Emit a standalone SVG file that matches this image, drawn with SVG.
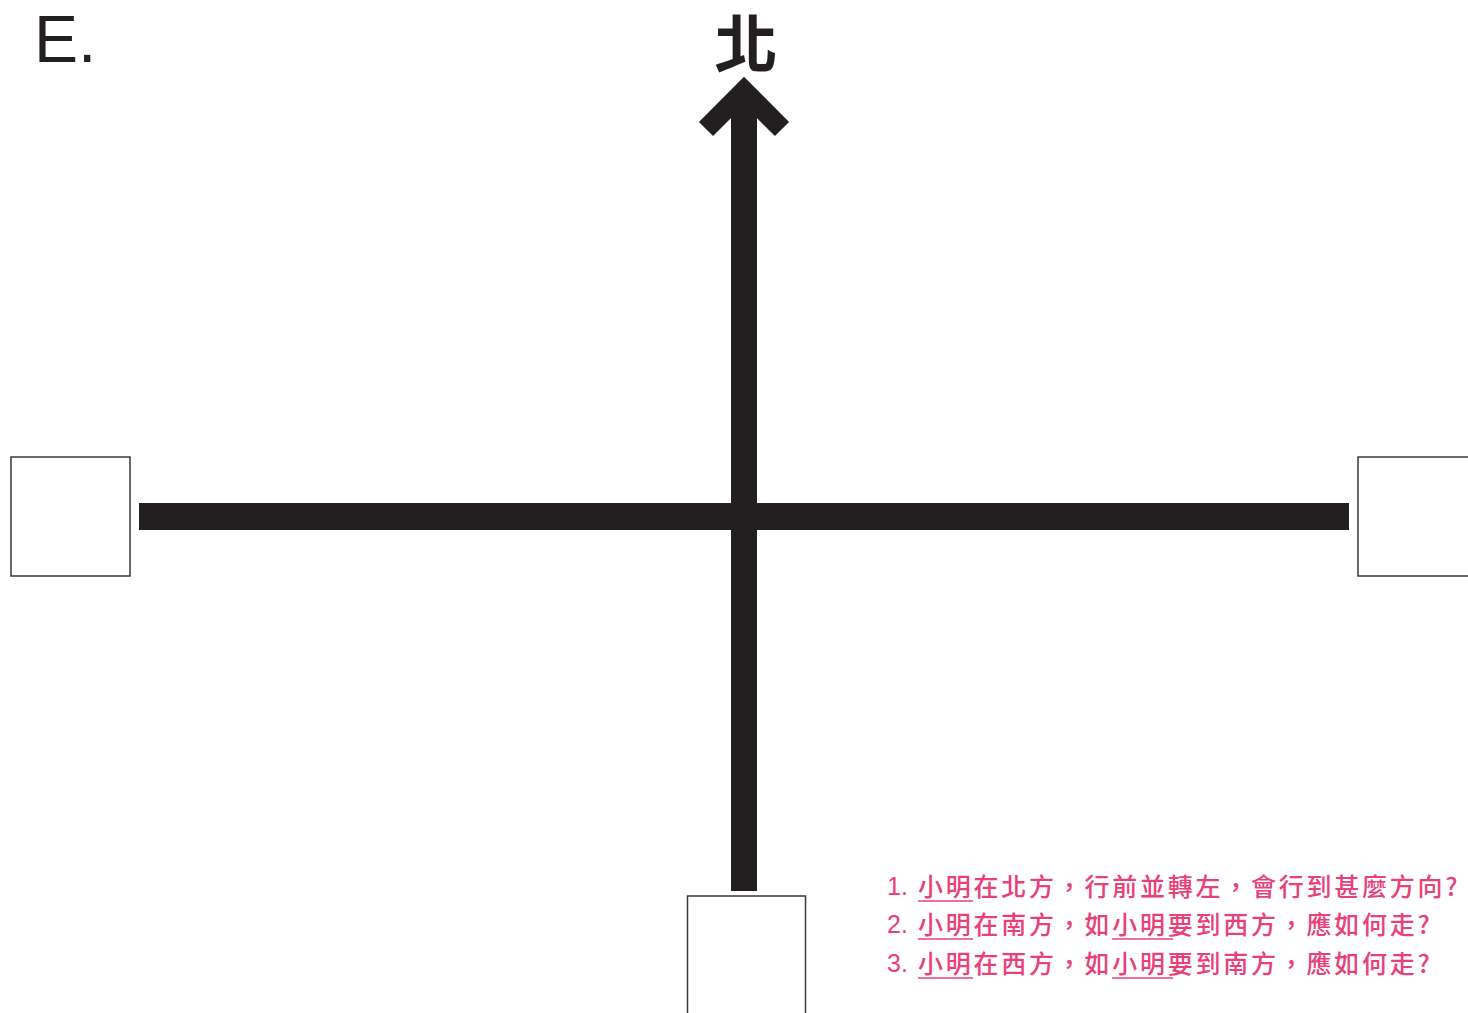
<svg xmlns="http://www.w3.org/2000/svg" width="1468" height="1013" viewBox="0 0 1468 1013">
<style>
.box{fill:#fff;stroke:#3a3a3a;stroke-width:1.5}
.bar{fill:#231f20}
.q{font-family:"Noto Sans CJK TC","Noto Sans CJK SC",sans-serif;font-size:25px;font-weight:500;fill:#e9407a;letter-spacing:2.75px}
.num{font-family:"Liberation Sans",Arial,sans-serif;font-size:25px;fill:#e9407a}
.ul{stroke:#e9407a;stroke-width:1.6}
</style>
<rect width="1468" height="1013" fill="#fff"/>
<text x="34" y="62" font-family="Liberation Sans, Arial, sans-serif" font-size="66" fill="#231f20">E.</text>
<g id="connectors">
  <rect class="bar" x="139" y="503" width="1210" height="27"/>
  <rect class="bar" x="731" y="100" width="26" height="791"/>
  <polyline points="706,129 744,91 782,129" fill="none" stroke="#231f20" stroke-width="20" stroke-linejoin="miter" stroke-miterlimit="10"/>
</g>
<g id="north">
  <text x="746" y="67" text-anchor="middle" font-family="Noto Sans CJK TC, Noto Sans CJK SC, sans-serif" font-weight="bold" font-size="63" fill="#231f20">北</text>
</g>
<g id="west-box"><rect class="box" x="11" y="457" width="119" height="119"/></g>
<g id="east-box"><rect class="box" x="1358" y="457" width="119" height="119"/></g>
<g id="south-box"><rect class="box" x="687.5" y="896" width="118" height="130"/></g>
<g id="questions">
  <text class="num" x="887" y="895">1.</text>
  <text class="q" x="918" y="896">小明在北方，行前並轉左，會行到甚麼方向?</text>
  <line class="ul" x1="918" y1="901" x2="973" y2="901"/>
  <text class="num" x="887" y="933">2.</text>
  <text class="q" x="918" y="934">小明在南方，如小明要到西方，應如何走?</text>
  <line class="ul" x1="918" y1="939" x2="973" y2="939"/>
  <line class="ul" x1="1112" y1="939" x2="1173" y2="939"/>
  <text class="num" x="887" y="972">3.</text>
  <text class="q" x="918" y="973">小明在西方，如小明要到南方，應如何走?</text>
  <line class="ul" x1="918" y1="978" x2="973" y2="978"/>
  <line class="ul" x1="1112" y1="978" x2="1173" y2="978"/>
</g>
</svg>
